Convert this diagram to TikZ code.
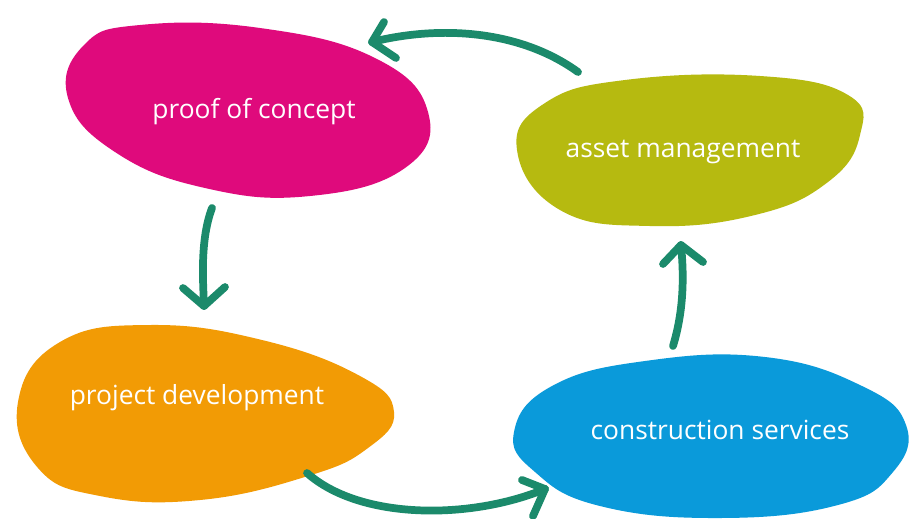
\documentclass[tikz,border=0pt]{standalone}
\usepackage{fontspec}
\setmainfont{Open Sans}
\definecolor{pinkc}{HTML}{DF0A7C}
\definecolor{olivec}{HTML}{B6BA10}
\definecolor{orangec}{HTML}{F29B05}
\definecolor{bluec}{HTML}{0A9ADA}
\definecolor{greenc}{HTML}{1B8A6B}
\tikzset{
  blob/.style={smooth cycle, tension=0.75},
  lbl/.style={text=white, font=\fontsize{15}{18}\selectfont, inner sep=0pt},
  conn/.style={draw=greenc, line width=4.4pt, line cap=round, line join=round},
}
\begin{document}
\begin{tikzpicture}[x=0.02cm, y=-0.02cm]
\fill[white] (0,0) rectangle (912,518);
\useasboundingbox (0,0) rectangle (912,518);
% blobs
\fill[pinkc] plot[blob] coordinates {(140,25) (260,28) (375,58) (428,112) (405,168) (310,196) (205,188) (115,152) (68,98) (84,45)};
\fill[olivec] plot[blob] coordinates {(517,150) (545,103) (625,80) (760,76) (848,95) (860,135) (828,182) (755,215) (650,226) (560,210)};
\fill[orangec] plot[blob] coordinates {(18,402) (60,342) (150,325) (262,340) (360,376) (394,412) (368,448) (308,476) (200,500) (100,496) (38,468)};
\fill[bluec] plot[blob] coordinates {(514,432) (552,386) (645,361) (765,357) (862,386) (906,425) (893,472) (838,505) (720,518) (600,506) (535,472)};
% labels
\node[lbl] (poc) at (254,112) {proof of concept};
\node[lbl] (am) at (683,152) {asset management};
\node[lbl] (pd) at (197,398) {project development};
\node[lbl] (cs) at (720,430) {construction services};
% connector end points
\coordinate (a1s) at (578,72);
\coordinate (a1e) at (372,42);
\coordinate (a2s) at (212,208);
\coordinate (a2e) at (204,306);
\coordinate (a3s) at (307,473);
\coordinate (a3e) at (545,489);
\coordinate (a4s) at (673,346);
\coordinate (a4e) at (681,245);
% arrows
\draw[conn] (a1s) .. controls (520,30) and (440,25) .. (a1e);
\draw[conn] (384,22) -- (a1e) -- (396,58);
\draw[conn] (a2s) .. controls (200,240) and (203,280) .. (a2e);
\draw[conn] (183,288) -- (a2e) -- (225,287);
\draw[conn] (a3s) .. controls (360,520) and (470,520) .. (a3e);
\draw[conn] (522,480) -- (a3e) -- (533,516);
\draw[conn] (a4s) .. controls (684,310) and (684,275) .. (a4e);
\draw[conn] (663,264) -- (a4e) -- (703,262);
\end{tikzpicture}
\end{document}
